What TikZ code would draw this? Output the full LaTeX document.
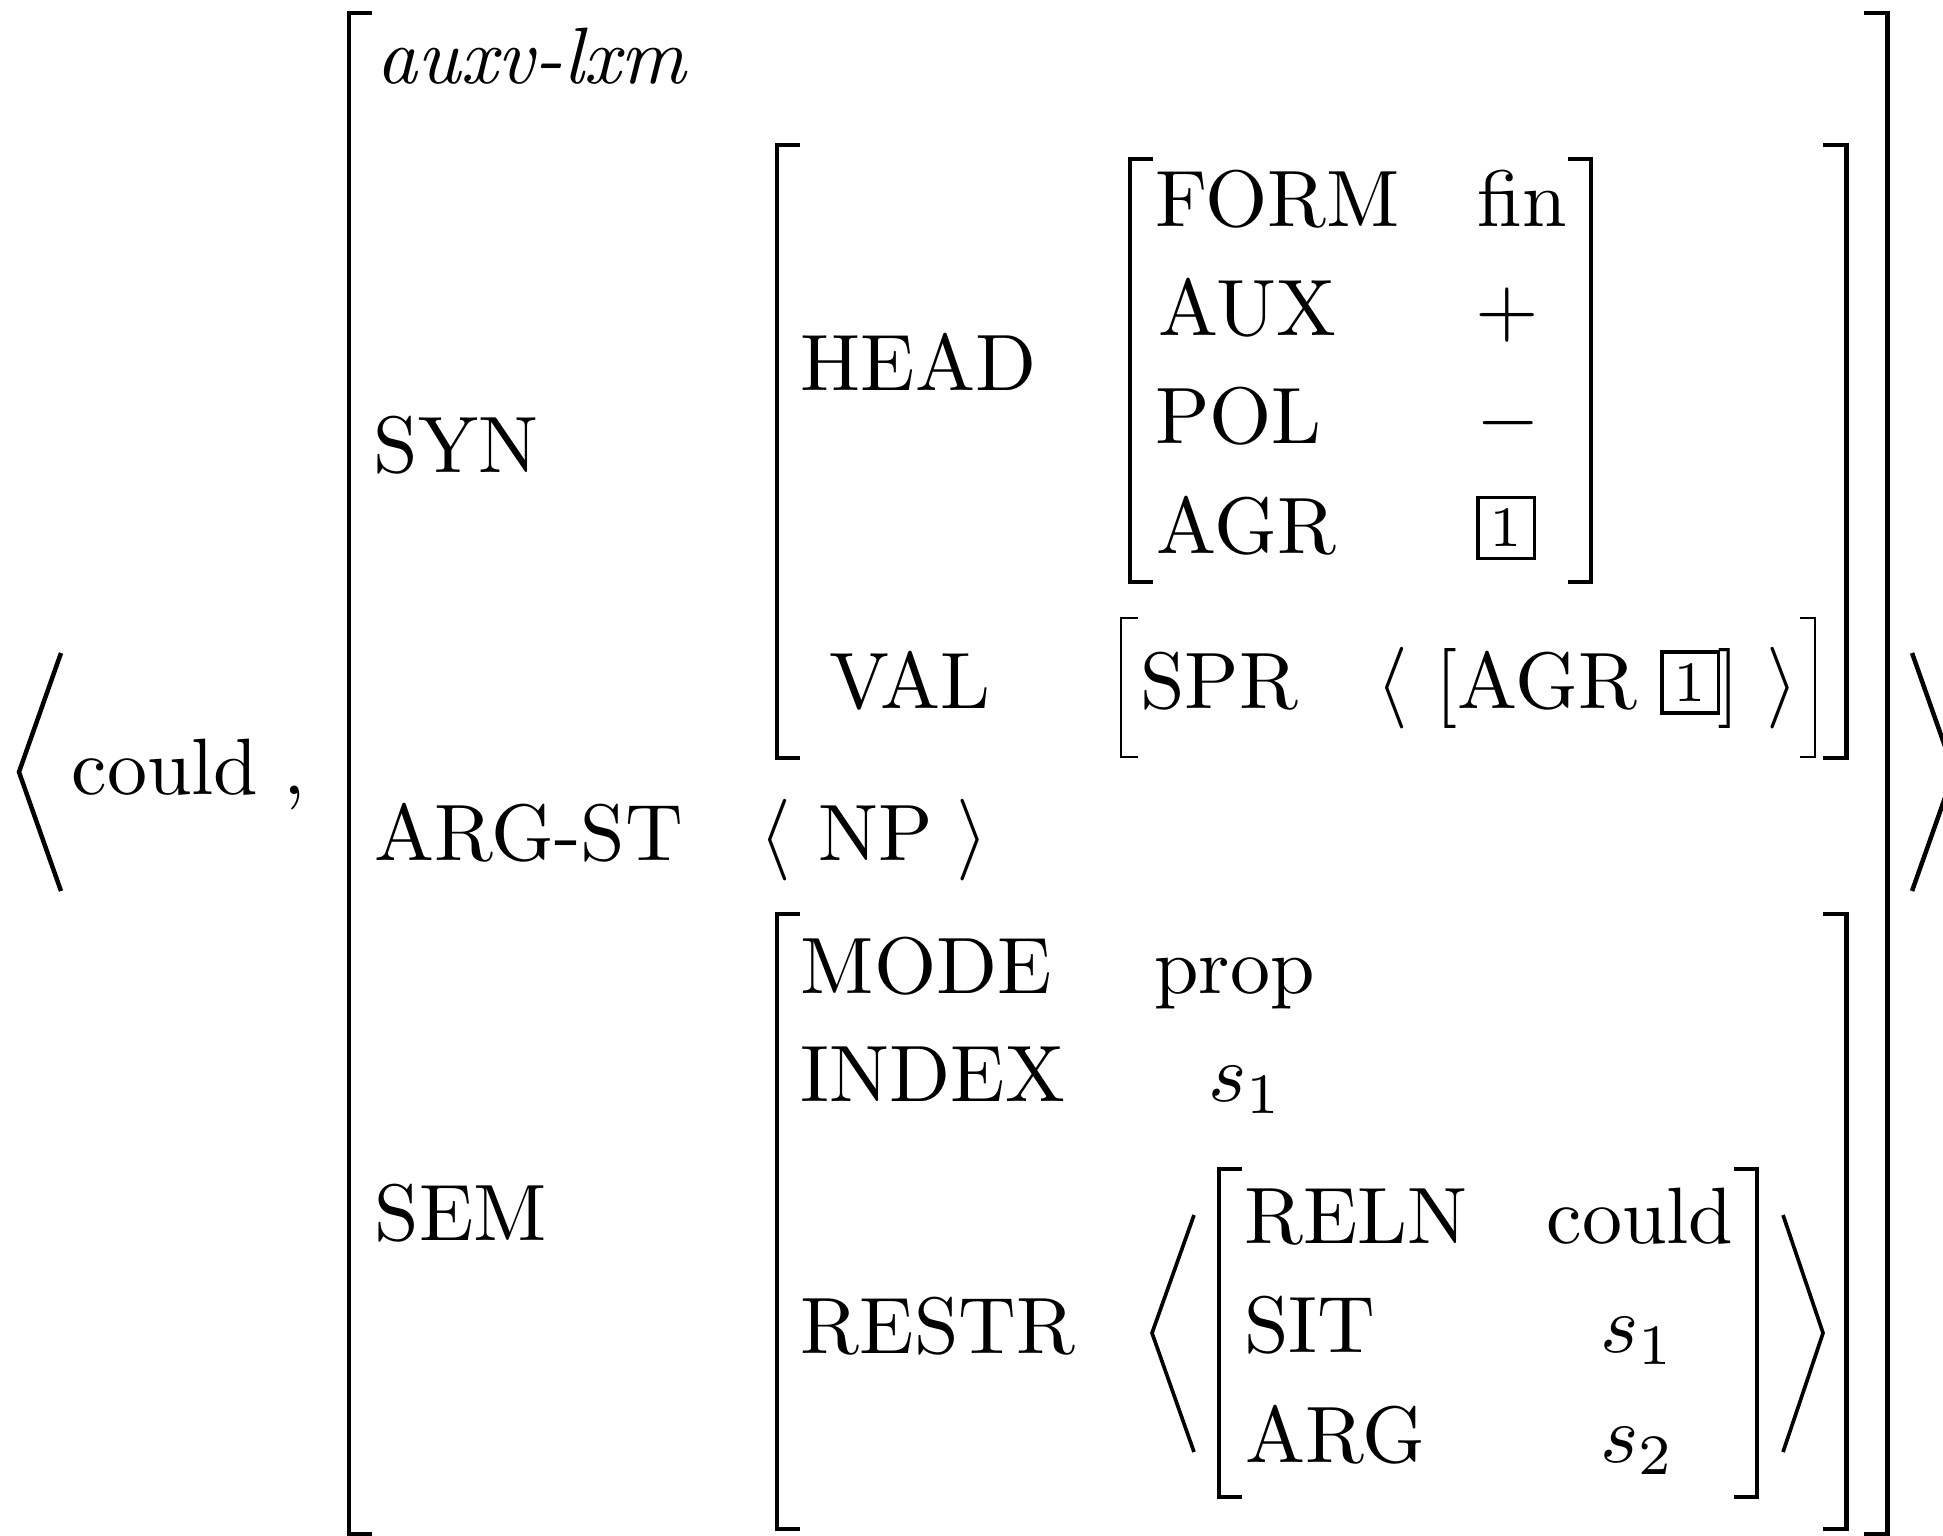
\documentclass[tikz,border=0pt]{standalone}
\usepackage{tikz}
\tikzset{
    attr/.style={anchor=base west, inner sep=0pt},
    delim/.style={anchor=base, inner sep=0pt},
    tagbox/.style={
        draw=black, line width=0.4pt, inner sep=0pt,
        minimum width=6.9pt, minimum height=7.5pt,
        font=\scriptsize
    },
    brack/.style={draw=black, line width=0.6pt},
    thinbrack/.style={draw=black, line width=0.35pt},
    bigangle/.style={draw=black, line width=0.55pt, line join=miter}
}
\begin{document}
\begin{tikzpicture}[x=0.1225pt, y=-0.1225pt, font=\fontsize{9.8pt}{12pt}\selectfont]

\useasboundingbox (0,0) rectangle (1943,1535);
\clip (0,0) rectangle (1943,1535);

% Word and outer angle brackets
\draw[bigangle] (61,653) -- (19,772) -- (61,891);
\draw[bigangle] (1912,653) -- (1954,772) -- (1912,891);
\node[attr] (word) at (70,794) {could};
\node[attr] (comma) at (282,794) {,};

% Outer matrix
\draw[brack] (372,13) -- (349,13) -- (349,1534) -- (372,1534);
\draw[brack] (1864,13) -- (1887,13) -- (1887,1534) -- (1864,1534);
\node[attr] (type) at (375,84) {\textit{auxv-lxm}};
\node[attr] (syn) at (372,472) {SYN};
\node[attr] (argst) at (373,860) {ARG-ST};
\node[attr] (sem) at (373,1240.5) {SEM};

% SYN value
\draw[brack] (800,145) -- (777,145) -- (777,758) -- (800,758);
\draw[brack] (1823,145) -- (1846,145) -- (1846,758) -- (1823,758);
\node[attr] (head) at (799,390) {HEAD};
\node[attr] (val) at (828,708) {VAL};

% HEAD value
\draw[brack] (1153,159) -- (1130,159) -- (1130,582) -- (1153,582);
\draw[brack] (1568,159) -- (1591,159) -- (1591,582) -- (1568,582);
\node[attr] (form) at (1153.5,227) {FORM};
\node[attr] (formv) at (1476,227) {fin};
\node[attr] (aux) at (1156.5,335) {AUX};
\node[delim] (auxv) at (1507,335) {$+$};
\node[attr] (pol) at (1153.5,443) {POL};
\node[delim] (polv) at (1508,443) {$-$};
\node[attr] (agr) at (1155,553) {AGR};
\node[tagbox] (agrtag) at (1506,528) {1};

% VAL value
\draw[thinbrack] (1138,618) -- (1121,618) -- (1121,757) -- (1138,757);
\draw[thinbrack] (1800,618) -- (1815,618) -- (1815,757) -- (1800,757);
\node[attr] (spr) at (1138.5,708) {SPR};
\node[delim] (sprl) at (1392,708) {$\langle$};
\node[delim] (sprlb) at (1447,708) {[};
\node[attr] (spragr) at (1456,708) {AGR};
\node[tagbox] (sprtag) at (1690,682.5) {1};
\node[delim] (sprrb) at (1728.5,708) {]};
\node[delim] (sprr) at (1782,708) {$\rangle$};

% ARG-ST value
\node[delim] (npl) at (775.5,860) {$\langle$};
\node[attr] (np) at (816.5,860) {NP};
\node[delim] (npr) at (972.5,860) {$\rangle$};

% SEM value
\draw[brack] (800,914) -- (777,914) -- (777,1529) -- (800,1529);
\draw[brack] (1823,914) -- (1846,914) -- (1846,1529) -- (1823,1529);
\node[attr] (mode) at (799,993) {MODE};
\node[attr] (modev) at (1152.5,993) {prop};
\node[attr] (index) at (799,1101) {INDEX};
\node[attr] (indexv) at (1207,1101) {$s_1$};
\node[attr] (restr) at (799,1353) {RESTR};

% RESTR value
\draw[bigangle, line width=0.45pt] (1194,1215) -- (1152,1333) -- (1194,1452);
\draw[bigangle, line width=0.45pt] (1783,1215) -- (1823,1333) -- (1783,1452);
\draw[brack] (1242,1169) -- (1219,1169) -- (1219,1497) -- (1242,1497);
\draw[brack] (1734,1169) -- (1757,1169) -- (1757,1497) -- (1734,1497);
\node[attr] (reln) at (1242.5,1243) {RELN};
\node[attr] (relnv) at (1545,1243) {could};
\node[attr] (sit) at (1242.5,1352) {SIT};
\node[attr] (sitv) at (1599,1352) {$s_1$};
\node[attr] (arg) at (1244,1462) {ARG};
\node[attr] (argv) at (1599,1462) {$s_2$};

\end{tikzpicture}
\end{document}
